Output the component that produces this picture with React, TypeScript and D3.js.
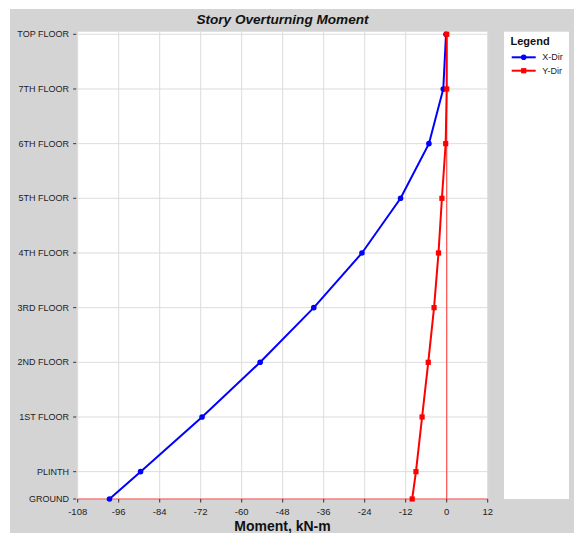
import React from "react";
import * as d3 from "d3";

const storyLabels = ["GROUND", "PLINTH", "1ST FLOOR", "2ND FLOOR", "3RD FLOOR", "4TH FLOOR", "5TH FLOOR", "6TH FLOOR", "7TH FLOOR", "TOP FLOOR"];
const storyElevations = [0, 1.5, 4.5, 7.5, 10.5, 13.5, 16.5, 19.5, 22.5, 25.5];
const xDirValues = [-98.7, -89.6, -71.6, -54.6, -38.9, -24.8, -13.5, -5.2, -1.0, -0.2];
const yDirValues = [-10.1, -9.0, -7.2, -5.4, -3.7, -2.4, -1.4, -0.3, 0, 0];
const xTicks = [-108, -96, -84, -72, -60, -48, -36, -24, -12, 0, 12];

const W = 574, H = 533;
const plotL = 77.7, plotR = 487.7, plotT = 31.7, plotB = 499;

export default function App() {
  const x = d3.scaleLinear().domain([-108, 12]).range([plotL, plotR]);
  const y = d3.scaleLinear().domain([0, 25.5]).range([plotB, 34.3]);
  const line = d3.line<number>()
    .x((d) => x(d))
    .y((_, i) => y(storyElevations[i]));
  const font = "'Liberation Sans', Arial, sans-serif";
  const blue = "#0000ff", red = "#ff0000";
  return (
    <svg width={W} height={H} style={{ position: "absolute", left: 0, top: 0 }} fontFamily={font}>
      <rect x={0} y={0} width={W} height={H} fill="#ffffff" />
      <rect x={10} y={9} width={W - 10} height={H - 9} fill="#d4d4d4" />
      <text x={282.5} y={23.5} textAnchor="middle" fontSize={13.6} fontWeight="bold" fontStyle="italic" fill="#111">Story Overturning Moment</text>
      <rect x={plotL} y={plotT} width={plotR - plotL} height={plotB - plotT} fill="#ffffff" />
      {xTicks.map((t) => (
        <line key={"gx" + t} x1={x(t)} x2={x(t)} y1={plotT} y2={plotB} stroke="#dcdcdc" strokeWidth={1} />
      ))}
      {storyElevations.map((e, i) => (
        <line key={"gy" + i} x1={plotL} x2={plotR} y1={y(e)} y2={y(e)} stroke="#dcdcdc" strokeWidth={1} />
      ))}
      {/* zero lines */}
      <line x1={x(0)} x2={x(0)} y1={plotT} y2={plotB} stroke="#ff5050" strokeWidth={1.2} />
      <line x1={plotL} x2={plotR} y1={y(0)} y2={y(0)} stroke="#ff5050" strokeWidth={1.2} />
      {/* x ticks */}
      {xTicks.map((t) => (
        <g key={"tx" + t}>
          <line x1={x(t)} x2={x(t)} y1={plotB} y2={plotB + 3.5} stroke="#333" strokeWidth={1} />
          <text x={x(t)} y={515} textAnchor="middle" fontSize={9.5} fill="#222">{t}</text>
        </g>
      ))}
      {/* y ticks */}
      {storyLabels.map((s, i) => (
        <g key={"ty" + i}>
          <line x1={plotL - 4.5} x2={plotL - 1.5} y1={y(storyElevations[i])} y2={y(storyElevations[i])} stroke="#333" strokeWidth={1} />
          <text x={69} y={y(storyElevations[i])} dy="0.35em" textAnchor="end" fontSize={9} fill="#222">{s}</text>
        </g>
      ))}
      <text x={282.5} y={531} textAnchor="middle" fontSize={14} fontWeight="bold" fill="#111">Moment, kN-m</text>
      {/* series */}
      <path d={line(xDirValues) || ""} fill="none" stroke={blue} strokeWidth={2} />
      {xDirValues.map((v, i) => (
        <circle key={"bx" + i} cx={x(v)} cy={y(storyElevations[i])} r={2.8} fill={blue} />
      ))}
      <path d={line(yDirValues) || ""} fill="none" stroke={red} strokeWidth={2} />
      {yDirValues.map((v, i) => (
        <rect key={"ry" + i} x={x(v) - 2.6} y={y(storyElevations[i]) - 2.6} width={5.2} height={5.2} fill={red} />
      ))}
      {/* legend */}
      <rect x={504} y={plotT} width={65} height={plotB - plotT} fill="#ffffff" />
      <text x={510.5} y={45} fontSize={11} fontWeight="bold" fill="#111">Legend</text>
      <line x1={511.7} x2={535.7} y1={57.3} y2={57.3} stroke={blue} strokeWidth={2} />
      <circle cx={523.7} cy={57.3} r={2.8} fill={blue} />
      <text x={542.3} y={57.3} dy="0.35em" fontSize={9} fill="#222">X-Dir</text>
      <line x1={511.7} x2={535.7} y1={70.7} y2={70.7} stroke={red} strokeWidth={2} />
      <rect x={523.7 - 2.6} y={70.7 - 2.6} width={5.2} height={5.2} fill={red} />
      <text x={542.3} y={70.7} dy="0.35em" fontSize={9} fill="#222">Y-Dir</text>
    </svg>
  );
}
